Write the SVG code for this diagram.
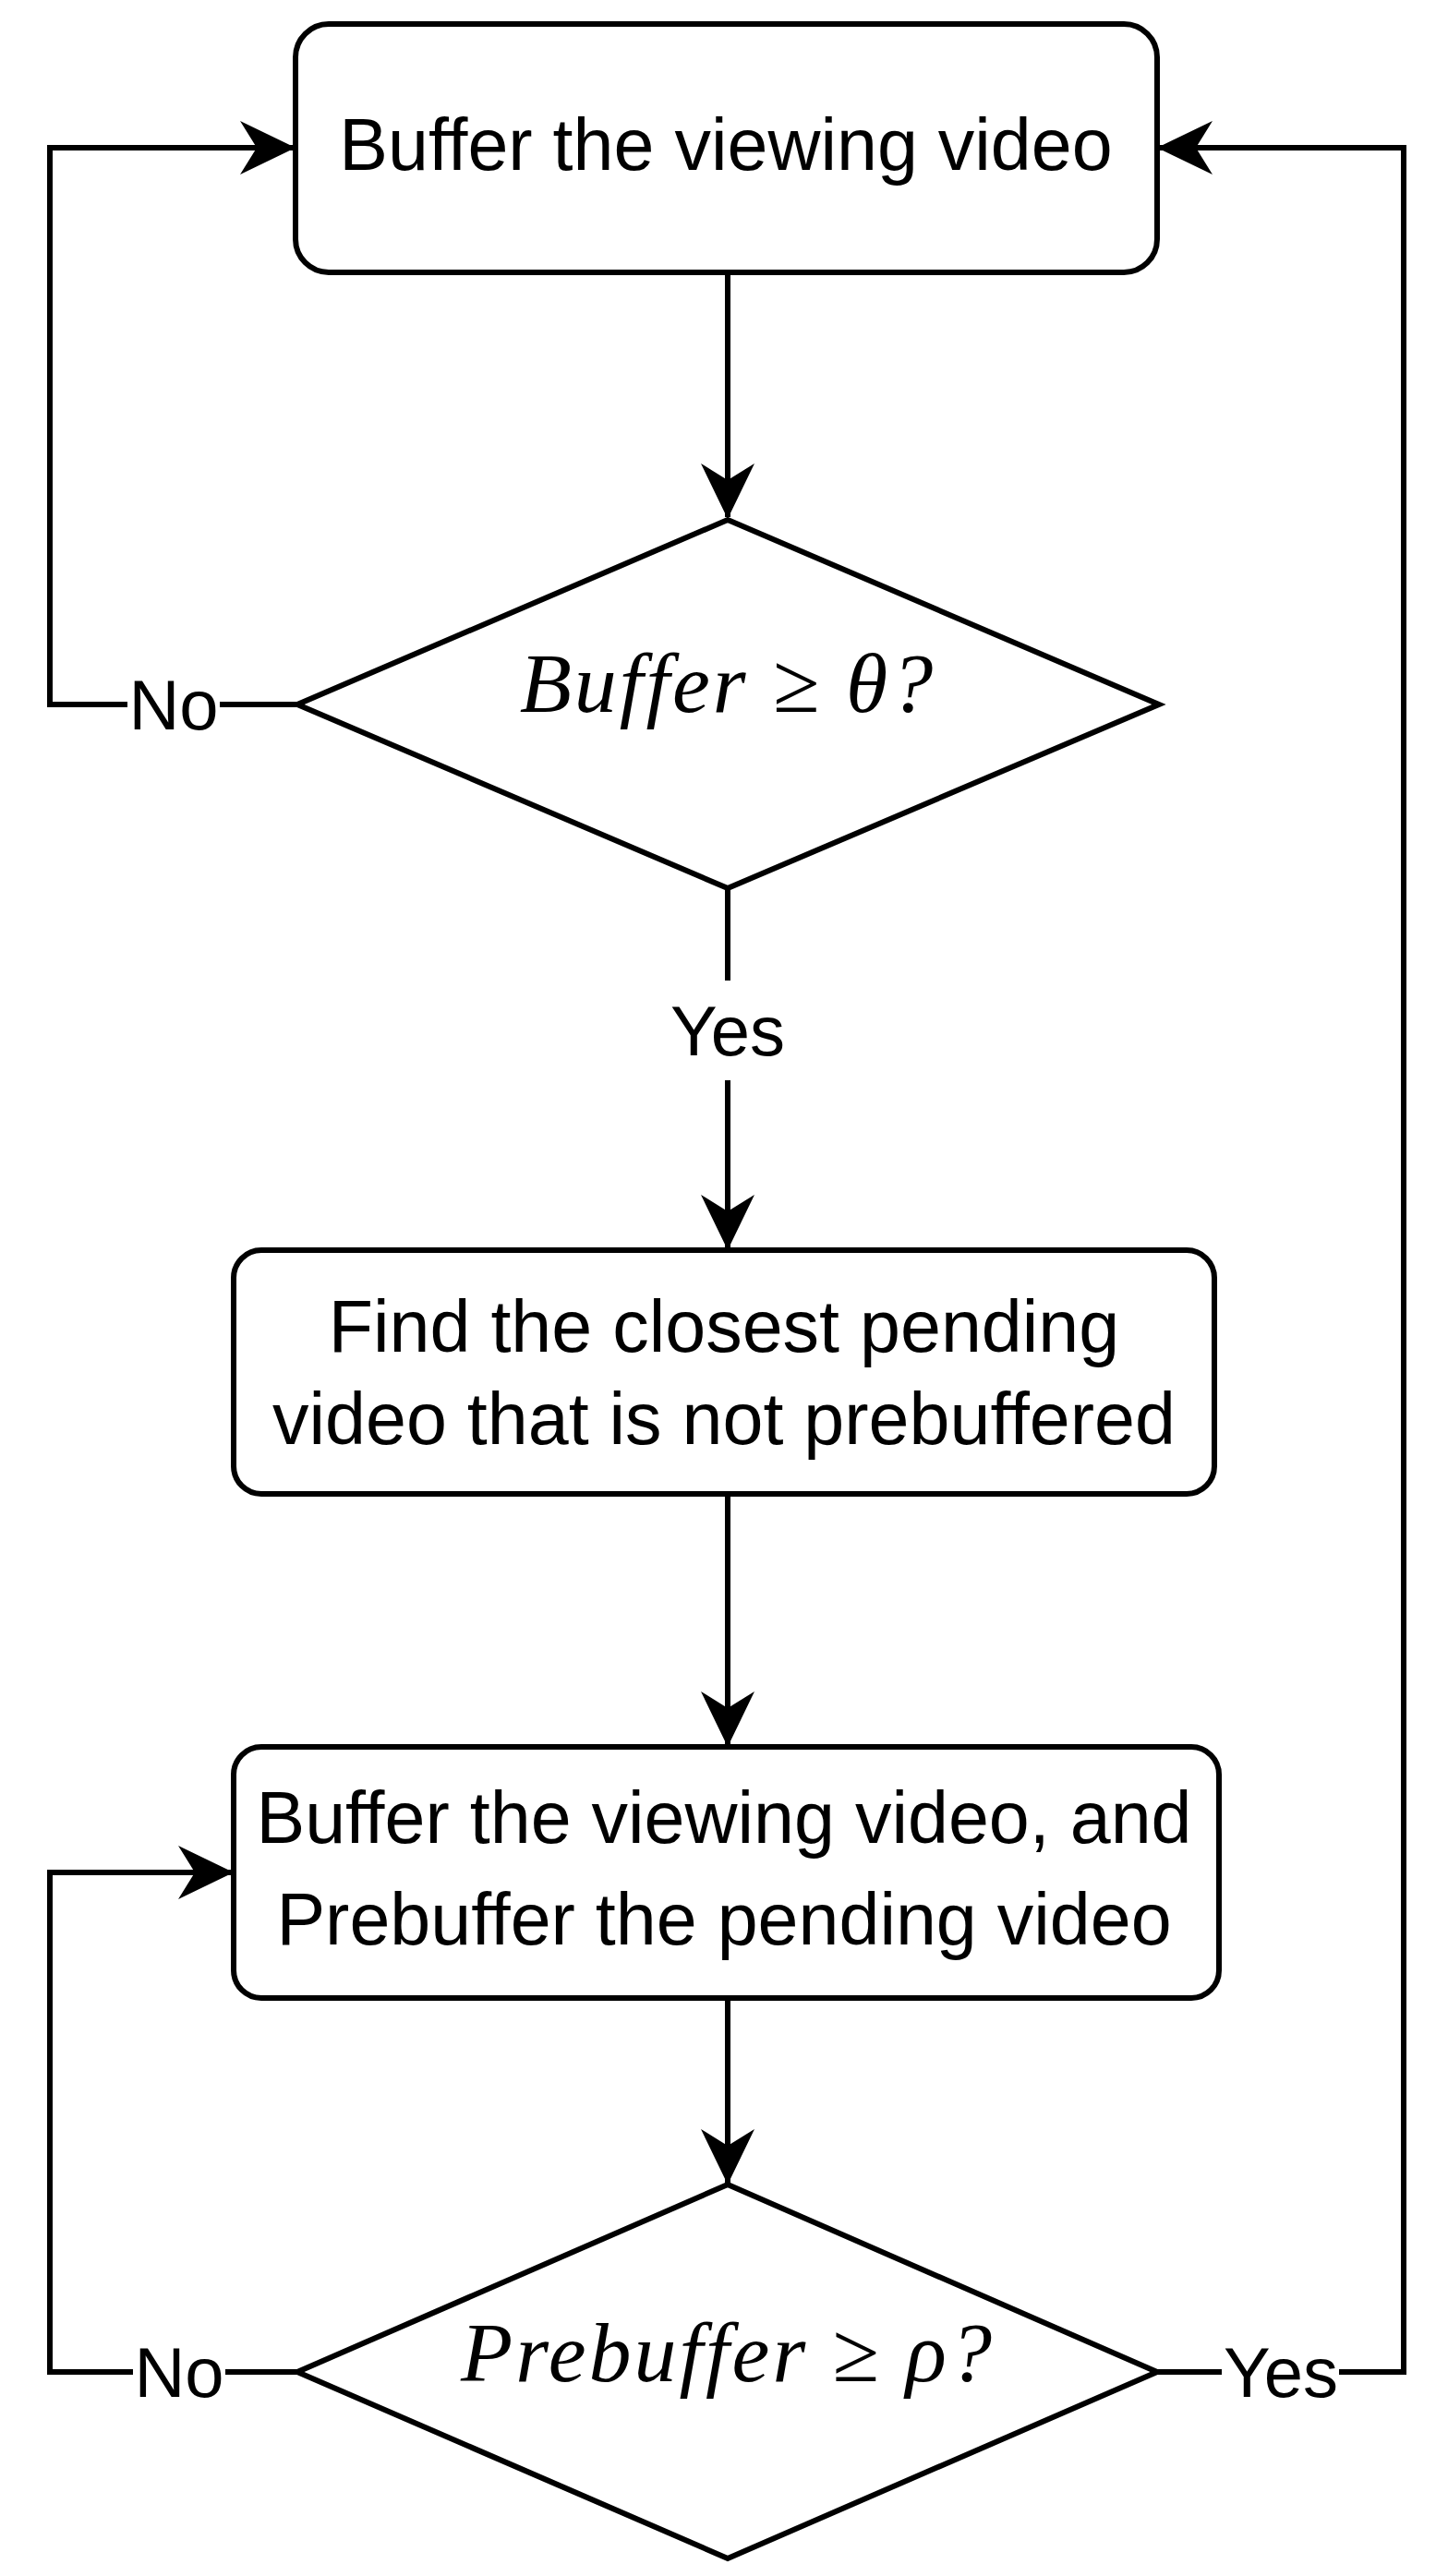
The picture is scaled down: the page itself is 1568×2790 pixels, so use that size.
<svg xmlns="http://www.w3.org/2000/svg" width="1568" height="2790" viewBox="0 0 1568 2790">
<defs>
<marker id="ah" viewBox="0 0 60 58" refX="58" refY="29" markerWidth="60" markerHeight="58" markerUnits="userSpaceOnUse" orient="auto">
<path d="M0,0 L60,29 L0,58 L18,29 Z" fill="#000"/>
</marker>
<style>
.s{fill:#fff;stroke:#000;stroke-width:6}
.t{font-family:"Liberation Sans",Arial,sans-serif;font-size:79px;text-anchor:middle;dominant-baseline:central}
.m{font-family:"Liberation Serif",serif;font-style:italic;font-size:92px;text-anchor:middle;dominant-baseline:central;letter-spacing:3px}
.l{font-family:"Liberation Sans",Arial,sans-serif;font-size:76px;text-anchor:middle;dominant-baseline:central}
.c{fill:none;stroke:#000;stroke-width:6}
</style>
</defs>
<g id="connectors">
<path class="c" d="M788,295 V560" marker-end="url(#ah)"/>
<path class="c" d="M322,763 H54 V160 H318" marker-end="url(#ah)"/>
<path class="c" d="M788,962 V1352" marker-end="url(#ah)"/>
<path class="c" d="M788,1618 V1890" marker-end="url(#ah)"/>
<path class="c" d="M788,2164 V2364" marker-end="url(#ah)"/>
<path class="c" d="M322,2569 H54 V2028 H251" marker-end="url(#ah)"/>
<path class="c" d="M1253,2569 H1520 V160 H1255" marker-end="url(#ah)"/>
<rect x="138" y="713" width="100" height="100" fill="#fff"/>
<text class="l" x="188" y="763">No</text>
<rect x="724" y="1062" width="128" height="108" fill="#fff"/>
<text class="l" x="788" y="1116">Yes</text>
<rect x="144" y="2519" width="100" height="100" fill="#fff"/>
<text class="l" x="194" y="2569">No</text>
<rect x="1323" y="2519" width="127" height="100" fill="#fff"/>
<text class="l" x="1387" y="2569">Yes</text>
</g>
<g id="n1"><rect class="s" x="320" y="26" width="933" height="269" rx="36"/><text class="t" x="786" y="156">Buffer the viewing video</text></g>
<g id="n2"><path class="s" d="M788,563 L1255,763 L788,962 L322,763 Z"/><text class="m" x="788" y="740">Buffer ≥ θ?</text></g>
<g id="n3"><rect class="s" x="253" y="1354" width="1062" height="264" rx="30"/><text class="t" x="784" y="1436">Find the closest pending</text><text class="t" x="784" y="1536">video that is not prebuffered</text></g>
<g id="n4"><rect class="s" x="253" y="1892" width="1067" height="272" rx="30"/><text class="t" x="784" y="1968">Buffer the viewing video, and</text><text class="t" x="784" y="2078">Prebuffer the pending video</text></g>
<g id="n5"><path class="s" d="M788,2366 L1253,2569 L788,2771 L322,2569 Z"/><text class="m" x="788" y="2548">Prebuffer ≥ ρ?</text></g>
</svg>
